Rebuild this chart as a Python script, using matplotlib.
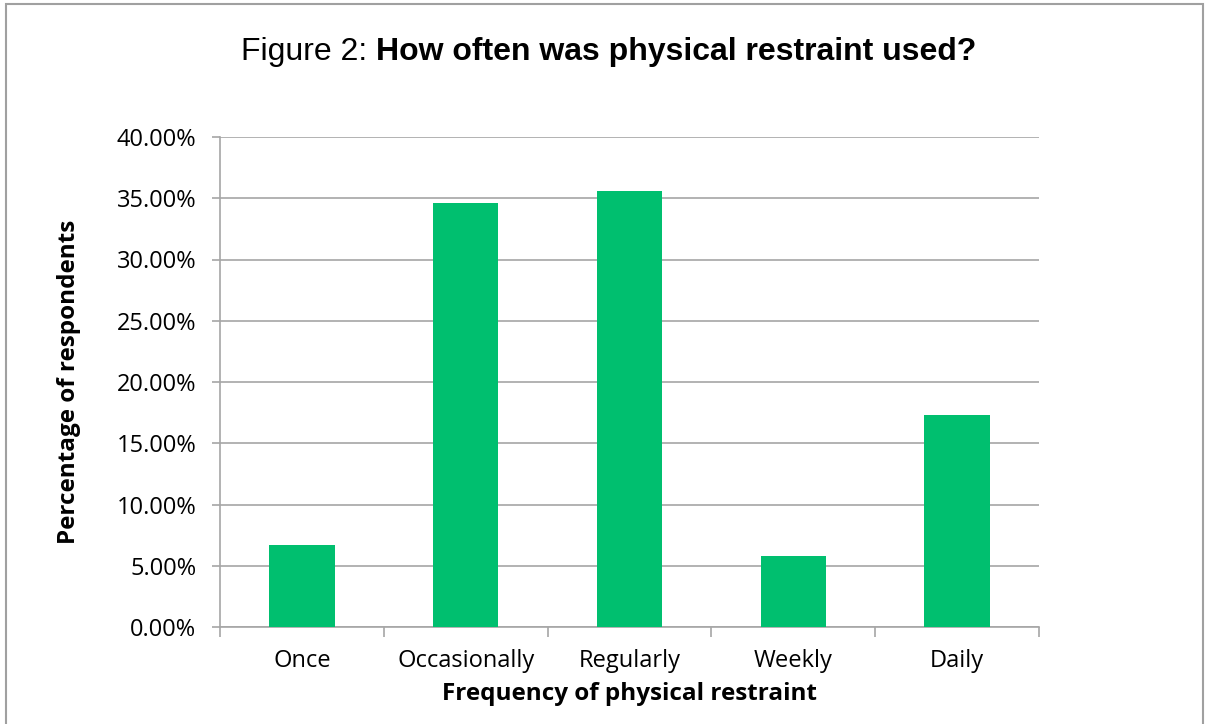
import matplotlib.pyplot as plt
from matplotlib.patches import Rectangle
from matplotlib.ticker import FuncFormatter, MultipleLocator

categories = ['Once', 'Occasionally', 'Regularly', 'Weekly', 'Daily']
percentages = [6.7, 34.6, 35.6, 5.8, 17.3]

bar_color = '#00BF6F'
grid_color = '#A6A6A6'
tick_font = ['Open Sans', 'DejaVu Sans']

fig = plt.figure(figsize=(12.07, 7.24), dpi=100)
ax = fig.add_axes([220 / 1207, 1 - 627 / 724, (1039 - 220) / 1207, (627 - 137) / 724])

x = list(range(len(categories)))
ax.bar(x, percentages, width=0.4, color=bar_color, zorder=3)

ax.set_xlim(-0.5, len(categories) - 0.5)
ax.set_ylim(0, 40)
ax.yaxis.set_major_locator(MultipleLocator(5))
ax.yaxis.set_major_formatter(FuncFormatter(lambda v, p: f'{v:.2f}%'))
ax.grid(axis='y', color=grid_color, linewidth=1.2, zorder=0)

# category labels sit between tick marks at the boundaries
ax.set_xticks([i - 0.5 for i in range(len(categories) + 1)])
ax.set_xticklabels([])
ax.set_xticks(x, minor=True)
ax.set_xticklabels(categories, minor=True, fontsize=17, family=tick_font)
ax.tick_params(axis='x', which='minor', length=0, pad=16)
ax.tick_params(axis='x', which='major', length=7, color=grid_color, width=1.2)
ax.tick_params(axis='y', length=6, color=grid_color, width=1.2, pad=11)
for lbl in ax.get_yticklabels():
    lbl.set_family(tick_font)
    lbl.set_fontsize(17)

for side in ['top', 'right']:
    ax.spines[side].set_visible(False)
for side in ['left', 'bottom']:
    ax.spines[side].set_color(grid_color)
    ax.spines[side].set_linewidth(1.2)

ax.set_xlabel('Frequency of physical restraint', fontsize=17.5, fontweight='bold',
              family=tick_font, labelpad=6)
ax.set_ylabel('Percentage of respondents', fontsize=17.5, fontweight='bold',
              family=tick_font, labelpad=26)

# title with mixed weights
fig.canvas.draw()
r = fig.canvas.get_renderer()
t1 = fig.text(0, 0, 'Figure 2: ', fontsize=23, family=['Liberation Sans', 'DejaVu Sans'])
t2 = fig.text(0, 0, 'How often was physical restraint used?', fontsize=23,
              fontweight='bold', family=['Liberation Sans', 'DejaVu Sans'])
w1 = t1.get_window_extent(r).width
w2 = t2.get_window_extent(r).width
start = 609 - (w1 + w2) / 2
ty = 1 - 60 / 724
t1.set_position((start / 1207, ty))
t2.set_position(((start + w1) / 1207, ty))

fig.patches.append(Rectangle((6 / 1207, -0.01), 1 - 10 / 1207, 1 - 4 / 724 + 0.01,
                             transform=fig.transFigure, fill=False,
                             edgecolor='#A0A0A0', linewidth=1.5))

fig.savefig('out.png', dpi=100)
